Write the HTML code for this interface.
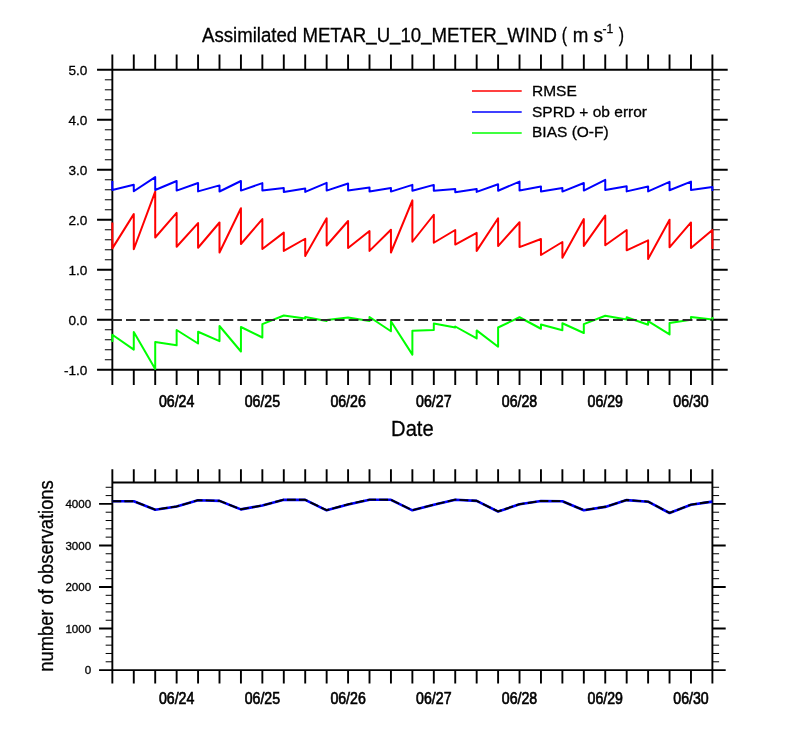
<!DOCTYPE html><html><head><meta charset="utf-8"><title>Assimilated METAR_U_10_METER_WIND</title><style>html,body{margin:0;padding:0;background:#fff;width:800px;height:750px;overflow:hidden}svg{display:block}text{font-family:"Liberation Sans",Arial,Helvetica,sans-serif;fill:#000;stroke:#000;stroke-width:0.3px}.b{stroke-width:0.65px}</style></head><body>
<svg width="800" height="750" viewBox="0 0 800 750">
<rect width="800" height="750" fill="#fff"/>
<text x="201.96" y="41.55" font-size="20" textLength="354.9" lengthAdjust="spacingAndGlyphs">Assimilated METAR<tspan dy="-1.5">_</tspan><tspan dy="1.5">U</tspan><tspan dy="-1.5">_</tspan><tspan dy="1.5">10</tspan><tspan dy="-1.5">_</tspan><tspan dy="1.5">METER</tspan><tspan dy="-1.5">_</tspan><tspan dy="1.5">WIND</tspan></text>
<text x="561.82" y="41.55" font-size="20" textLength="5.27" lengthAdjust="spacingAndGlyphs">(</text>
<text x="572.8" y="41.55" font-size="20" textLength="15.6" lengthAdjust="spacingAndGlyphs">m</text>
<text x="593.44" y="41.55" font-size="20" textLength="9.5" lengthAdjust="spacingAndGlyphs">s</text>
<text x="602.57" y="32.6" font-size="12">-1</text>
<text x="618.8" y="41.55" font-size="20" textLength="5.27" lengthAdjust="spacingAndGlyphs">)</text>
<path d="M112.35,69.8H712.4V369.75H112.35ZM112.35,69.8v-15.3M112.35,369.75v15.3M133.78,69.8v-15.3M133.78,369.75v15.3M155.21,69.8v-15.3M155.21,369.75v15.3M176.64,69.8v-15.3M176.64,369.75v15.3M198.07,69.8v-15.3M198.07,369.75v15.3M219.50,69.8v-15.3M219.50,369.75v15.3M240.93,69.8v-15.3M240.93,369.75v15.3M262.36,69.8v-15.3M262.36,369.75v15.3M283.79,69.8v-15.3M283.79,369.75v15.3M305.22,69.8v-15.3M305.22,369.75v15.3M326.65,69.8v-15.3M326.65,369.75v15.3M348.08,69.8v-15.3M348.08,369.75v15.3M369.51,69.8v-15.3M369.51,369.75v15.3M390.94,69.8v-15.3M390.94,369.75v15.3M412.38,69.8v-15.3M412.38,369.75v15.3M433.81,69.8v-15.3M433.81,369.75v15.3M455.24,69.8v-15.3M455.24,369.75v15.3M476.67,69.8v-15.3M476.67,369.75v15.3M498.10,69.8v-15.3M498.10,369.75v15.3M519.53,69.8v-15.3M519.53,369.75v15.3M540.96,69.8v-15.3M540.96,369.75v15.3M562.39,69.8v-15.3M562.39,369.75v15.3M583.82,69.8v-15.3M583.82,369.75v15.3M605.25,69.8v-15.3M605.25,369.75v15.3M626.68,69.8v-15.3M626.68,369.75v15.3M648.11,69.8v-15.3M648.11,369.75v15.3M669.54,69.8v-15.3M669.54,369.75v15.3M690.97,69.8v-15.3M690.97,369.75v15.3M712.40,69.8v-15.3M712.40,369.75v15.3M112.35,369.75h-15.3M712.4,369.75h15.3M112.35,319.76h-15.3M712.4,319.76h15.3M112.35,269.77h-15.3M712.4,269.77h15.3M112.35,219.77h-15.3M712.4,219.77h15.3M112.35,169.78h-15.3M712.4,169.78h15.3M112.35,119.79h-15.3M712.4,119.79h15.3M112.35,69.80h-15.3M712.4,69.80h15.3" fill="none" stroke="#000" stroke-width="1.9"/>
<path d="M112.35,359.75h-7.5M712.4,359.75h7.5M112.35,349.75h-7.5M712.4,349.75h7.5M112.35,339.75h-7.5M712.4,339.75h7.5M112.35,329.76h-7.5M712.4,329.76h7.5M112.35,309.76h-7.5M712.4,309.76h7.5M112.35,299.76h-7.5M712.4,299.76h7.5M112.35,289.76h-7.5M712.4,289.76h7.5M112.35,279.76h-7.5M712.4,279.76h7.5M112.35,259.77h-7.5M712.4,259.77h7.5M112.35,249.77h-7.5M712.4,249.77h7.5M112.35,239.77h-7.5M712.4,239.77h7.5M112.35,229.77h-7.5M712.4,229.77h7.5M112.35,209.78h-7.5M712.4,209.78h7.5M112.35,199.78h-7.5M712.4,199.78h7.5M112.35,189.78h-7.5M712.4,189.78h7.5M112.35,179.78h-7.5M712.4,179.78h7.5M112.35,159.78h-7.5M712.4,159.78h7.5M112.35,149.79h-7.5M712.4,149.79h7.5M112.35,139.79h-7.5M712.4,139.79h7.5M112.35,129.79h-7.5M712.4,129.79h7.5M112.35,109.79h-7.5M712.4,109.79h7.5M112.35,99.79h-7.5M712.4,99.79h7.5M112.35,89.80h-7.5M712.4,89.80h7.5M112.35,79.80h-7.5M712.4,79.80h7.5" fill="none" stroke="#000" stroke-width="1"/>
<g fill="none" stroke-width="2" stroke-linejoin="round" stroke-linecap="butt">
<polyline stroke="#f00" points="112.35,222.50 112.35,248.40 133.78,214.10 133.78,249.25 155.21,191.60 155.21,237.50 176.64,212.90 176.64,246.75 198.07,223.10 198.07,247.75 219.50,222.50 219.50,252.50 240.93,208.25 240.93,244.00 262.36,219.10 262.36,249.00 283.79,232.60 283.79,250.90 305.22,238.75 305.22,255.90 326.65,218.25 326.65,245.50 348.08,221.00 348.08,248.00 369.51,231.00 369.51,250.90 390.94,229.75 390.94,252.50 412.38,200.40 412.38,241.75 433.81,214.75 433.81,242.75 455.24,230.00 455.24,244.60 476.67,232.90 476.67,250.90 498.10,218.25 498.10,246.10 519.53,222.25 519.53,247.10 540.96,239.00 540.96,255.00 562.39,242.00 562.39,257.75 583.82,219.10 583.82,245.90 605.25,215.60 605.25,245.25 626.68,230.00 626.68,250.30 648.11,240.30 648.11,259.00 669.54,219.70 669.54,247.30 690.97,222.45 690.97,248.00 712.40,230.00 712.40,249.00"/>
<polyline stroke="#00f" points="112.35,181.00 112.35,190.00 133.78,184.75 133.78,191.25 155.21,177.10 155.21,190.00 176.64,181.00 176.64,190.60 198.07,183.00 198.07,191.40 219.50,185.40 219.50,191.50 240.93,181.00 240.93,190.60 262.36,183.10 262.36,190.60 283.79,188.00 283.79,191.90 305.22,188.60 305.22,191.90 326.65,182.90 326.65,190.60 348.08,183.50 348.08,190.60 369.51,187.40 369.51,191.60 390.94,187.90 390.94,191.60 412.38,184.90 412.38,190.75 433.81,184.90 433.81,190.75 455.24,189.10 455.24,192.25 476.67,188.90 476.67,191.90 498.10,184.25 498.10,190.75 519.53,181.60 519.53,190.40 540.96,186.50 540.96,191.50 562.39,188.00 562.39,191.60 583.82,183.00 583.82,190.60 605.25,179.90 605.25,190.00 626.68,186.30 626.68,191.40 648.11,186.50 648.11,191.40 669.54,181.90 669.54,190.30 690.97,181.60 690.97,190.00 712.40,186.90 712.40,191.00"/>
<polyline stroke="#0f0" points="112.35,342.00 112.35,334.75 133.78,349.60 133.78,331.90 155.21,369.00 155.21,341.90 176.64,345.25 176.64,330.00 198.07,343.50 198.07,331.75 219.50,341.10 219.50,326.00 240.93,351.50 240.93,327.00 262.36,337.50 262.36,324.10 283.79,315.50 283.79,315.50 305.22,318.50 305.22,317.00 326.65,321.00 326.65,320.00 348.08,317.50 348.08,317.50 369.51,321.00 369.51,317.00 390.94,331.25 390.94,321.25 412.38,354.60 412.38,330.75 433.81,330.00 433.81,323.50 455.24,327.50 455.24,326.50 476.67,338.40 476.67,330.40 498.10,346.75 498.10,327.50 519.53,317.25 519.53,317.25 540.96,328.75 540.96,324.50 562.39,330.25 562.39,323.25 583.82,333.00 583.82,324.10 605.25,315.75 605.25,315.75 626.68,319.60 626.68,317.25 648.11,324.70 648.11,321.20 669.54,334.40 669.54,322.90 690.97,319.75 690.97,317.00 712.40,319.50 712.40,317.00"/>
</g>
<line x1="112.35" y1="320.0" x2="712.4" y2="320.0" stroke="#2e2e2e" stroke-width="1.8" stroke-dasharray="9.85 4.064" stroke-dashoffset="0.26"/>
<text x="87.4" y="374.55" font-size="13.6" text-anchor="end">-1.0</text>
<text x="87.4" y="324.56" font-size="13.6" text-anchor="end">0.0</text>
<text x="87.4" y="274.57" font-size="13.6" text-anchor="end">1.0</text>
<text x="87.4" y="224.57" font-size="13.6" text-anchor="end">2.0</text>
<text x="87.4" y="174.58" font-size="13.6" text-anchor="end">3.0</text>
<text x="87.4" y="124.59" font-size="13.6" text-anchor="end">4.0</text>
<text x="87.4" y="74.60" font-size="13.6" text-anchor="end">5.0</text>
<text x="176.64" y="406.75" font-size="16" class="b" textLength="35.4" lengthAdjust="spacingAndGlyphs" text-anchor="middle">06/24</text>
<text x="262.36" y="406.75" font-size="16" class="b" textLength="35.4" lengthAdjust="spacingAndGlyphs" text-anchor="middle">06/25</text>
<text x="348.08" y="406.75" font-size="16" class="b" textLength="35.4" lengthAdjust="spacingAndGlyphs" text-anchor="middle">06/26</text>
<text x="433.81" y="406.75" font-size="16" class="b" textLength="35.4" lengthAdjust="spacingAndGlyphs" text-anchor="middle">06/27</text>
<text x="519.53" y="406.75" font-size="16" class="b" textLength="35.4" lengthAdjust="spacingAndGlyphs" text-anchor="middle">06/28</text>
<text x="605.25" y="406.75" font-size="16" class="b" textLength="35.4" lengthAdjust="spacingAndGlyphs" text-anchor="middle">06/29</text>
<text x="690.97" y="406.75" font-size="16" class="b" textLength="35.4" lengthAdjust="spacingAndGlyphs" text-anchor="middle">06/30</text>
<text x="412.4" y="436.25" font-size="21.8" textLength="42.6" lengthAdjust="spacingAndGlyphs" text-anchor="middle">Date</text>
<line x1="472" y1="91.0" x2="521.7" y2="91.0" stroke="#f00" stroke-width="1.5"/>
<text x="532.0" y="95.8" font-size="15.5">RMSE</text>
<line x1="472" y1="112" x2="521.7" y2="112" stroke="#00f" stroke-width="1.5"/>
<text x="532.0" y="117.0" font-size="15.5">SPRD + ob error</text>
<line x1="472" y1="133.0" x2="521.7" y2="133.0" stroke="#0f0" stroke-width="1.5"/>
<text x="532.0" y="137.0" font-size="15.5">BIAS (O-F)</text>
<path d="M112.35,482.5H712.4V670.1H112.35ZM112.35,482.5v-13.3M112.35,670.1v13.3M133.78,482.5v-13.3M133.78,670.1v13.3M155.21,482.5v-13.3M155.21,670.1v13.3M176.64,482.5v-13.3M176.64,670.1v13.3M198.07,482.5v-13.3M198.07,670.1v13.3M219.50,482.5v-13.3M219.50,670.1v13.3M240.93,482.5v-13.3M240.93,670.1v13.3M262.36,482.5v-13.3M262.36,670.1v13.3M283.79,482.5v-13.3M283.79,670.1v13.3M305.22,482.5v-13.3M305.22,670.1v13.3M326.65,482.5v-13.3M326.65,670.1v13.3M348.08,482.5v-13.3M348.08,670.1v13.3M369.51,482.5v-13.3M369.51,670.1v13.3M390.94,482.5v-13.3M390.94,670.1v13.3M412.38,482.5v-13.3M412.38,670.1v13.3M433.81,482.5v-13.3M433.81,670.1v13.3M455.24,482.5v-13.3M455.24,670.1v13.3M476.67,482.5v-13.3M476.67,670.1v13.3M498.10,482.5v-13.3M498.10,670.1v13.3M519.53,482.5v-13.3M519.53,670.1v13.3M540.96,482.5v-13.3M540.96,670.1v13.3M562.39,482.5v-13.3M562.39,670.1v13.3M583.82,482.5v-13.3M583.82,670.1v13.3M605.25,482.5v-13.3M605.25,670.1v13.3M626.68,482.5v-13.3M626.68,670.1v13.3M648.11,482.5v-13.3M648.11,670.1v13.3M669.54,482.5v-13.3M669.54,670.1v13.3M690.97,482.5v-13.3M690.97,670.1v13.3M712.40,482.5v-13.3M712.40,670.1v13.3M112.35,670.10h-13.3M712.4,670.10h13.3M112.35,628.55h-13.3M712.4,628.55h13.3M112.35,587.00h-13.3M712.4,587.00h13.3M112.35,545.45h-13.3M712.4,545.45h13.3M112.35,503.90h-13.3M712.4,503.90h13.3" fill="none" stroke="#000" stroke-width="1.9"/>
<path d="M112.35,661.79h-6.7M712.4,661.79h6.7M112.35,653.48h-6.7M712.4,653.48h6.7M112.35,645.17h-6.7M712.4,645.17h6.7M112.35,636.86h-6.7M712.4,636.86h6.7M112.35,620.24h-6.7M712.4,620.24h6.7M112.35,611.93h-6.7M712.4,611.93h6.7M112.35,603.62h-6.7M712.4,603.62h6.7M112.35,595.31h-6.7M712.4,595.31h6.7M112.35,578.69h-6.7M712.4,578.69h6.7M112.35,570.38h-6.7M712.4,570.38h6.7M112.35,562.07h-6.7M712.4,562.07h6.7M112.35,553.76h-6.7M712.4,553.76h6.7M112.35,537.14h-6.7M712.4,537.14h6.7M112.35,528.83h-6.7M712.4,528.83h6.7M112.35,520.52h-6.7M712.4,520.52h6.7M112.35,512.21h-6.7M712.4,512.21h6.7M112.35,495.59h-6.7M712.4,495.59h6.7M112.35,487.28h-6.7M712.4,487.28h6.7" fill="none" stroke="#000" stroke-width="1"/>
<g fill="none" stroke-width="2" stroke-linejoin="round">
<polyline stroke="#00f" stroke-width="2.6" points="112.35,501.30 133.78,501.30 155.21,509.70 176.64,506.55 198.07,500.30 219.50,500.90 240.93,509.40 262.36,505.55 283.79,499.80 305.22,499.90 326.65,510.30 348.08,504.40 369.51,499.70 390.94,499.80 412.38,510.30 433.81,504.70 455.24,499.70 476.67,500.90 498.10,511.55 519.53,504.30 540.96,501.00 562.39,501.30 583.82,510.30 605.25,506.90 626.68,500.10 648.11,501.70 669.54,513.00 690.97,504.70 712.40,501.60"/>
<polyline stroke="#000" stroke-width="1.9" stroke-dasharray="8.9 3.1" points="112.35,501.20 133.78,501.20 155.21,509.60 176.64,506.45 198.07,500.20 219.50,500.80 240.93,509.30 262.36,505.45 283.79,499.70 305.22,499.80 326.65,510.20 348.08,504.30 369.51,499.60 390.94,499.70 412.38,510.20 433.81,504.60 455.24,499.60 476.67,500.80 498.10,511.45 519.53,504.20 540.96,500.90 562.39,501.20 583.82,510.20 605.25,506.80 626.68,500.00 648.11,501.60 669.54,512.90 690.97,504.60 712.40,501.50"/>
</g>
<text x="91.2" y="674.20" font-size="11.6" text-anchor="end">0</text>
<text x="91.2" y="632.65" font-size="11.6" text-anchor="end">1000</text>
<text x="91.2" y="591.10" font-size="11.6" text-anchor="end">2000</text>
<text x="91.2" y="549.55" font-size="11.6" text-anchor="end">3000</text>
<text x="91.2" y="508.00" font-size="11.6" text-anchor="end">4000</text>
<text x="176.64" y="704.45" font-size="16" class="b" textLength="35.4" lengthAdjust="spacingAndGlyphs" text-anchor="middle">06/24</text>
<text x="262.36" y="704.45" font-size="16" class="b" textLength="35.4" lengthAdjust="spacingAndGlyphs" text-anchor="middle">06/25</text>
<text x="348.08" y="704.45" font-size="16" class="b" textLength="35.4" lengthAdjust="spacingAndGlyphs" text-anchor="middle">06/26</text>
<text x="433.81" y="704.45" font-size="16" class="b" textLength="35.4" lengthAdjust="spacingAndGlyphs" text-anchor="middle">06/27</text>
<text x="519.53" y="704.45" font-size="16" class="b" textLength="35.4" lengthAdjust="spacingAndGlyphs" text-anchor="middle">06/28</text>
<text x="605.25" y="704.45" font-size="16" class="b" textLength="35.4" lengthAdjust="spacingAndGlyphs" text-anchor="middle">06/29</text>
<text x="690.97" y="704.45" font-size="16" class="b" textLength="35.4" lengthAdjust="spacingAndGlyphs" text-anchor="middle">06/30</text>
<text transform="translate(52.7,576) rotate(-90)" x="0" y="0" font-size="19.3" textLength="191.4" lengthAdjust="spacingAndGlyphs" text-anchor="middle">number of observations</text>
</svg></body></html>
